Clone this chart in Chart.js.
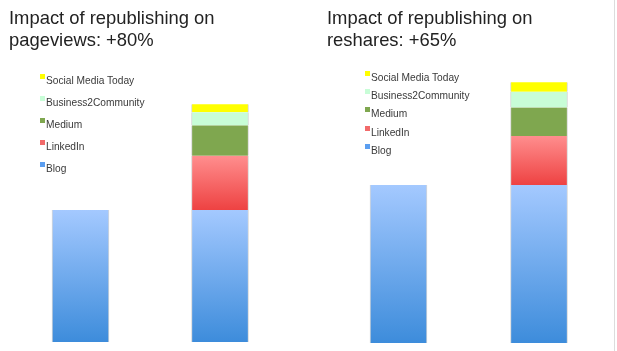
<!DOCTYPE html>
<html>
<head>
<meta charset="utf-8">
<script src="https://cdn.jsdelivr.net/npm/chart.js@4.4.1/dist/chart.umd.min.js"></script>
<style>
  html, body { margin: 0; padding: 0; background: #fff; }
  #page { position: relative; width: 617px; height: 351px; overflow: hidden; background: #fff; font-family: "Liberation Sans", Arial, Helvetica, sans-serif; }
  canvas { position: absolute; top: 0; }
  .title { position: absolute; font-size: 18.4px; line-height: 22px; color: #222; white-space: nowrap; }
  .legend { position: absolute; font-size: 10.2px; color: #3a3a3a; }
  .legend .item { position: absolute; left: 0; white-space: nowrap; height: 12px; line-height: 12px; }
  .legend .sw { position: absolute; left: 0; top: 0px; width: 5px; height: 5px; }
  .legend .tx { position: absolute; left: 6px; top: 1px; }
  #vline { position: absolute; left: 614px; top: 0; width: 1px; height: 351px; background: #dcdcdc; }
</style>
</head>
<body>
<div id="page">
  <canvas id="c1" width="308" height="342" style="left:0px"></canvas>
  <canvas id="c2" width="306" height="343" style="left:308px"></canvas>
  <div class="title" id="t1" style="left:9px; top:7px;"></div>
  <div class="title" id="t2" style="left:327px; top:7px;"></div>
  <div class="legend" id="l1" style="left:40px; top:0px;"></div>
  <div class="legend" id="l2" style="left:365px; top:0px;"></div>
  <div id="vline"></div>
</div>
<script>
// ---- data (index: Blog before republishing = 100) ----
const categories = ["Before", "After"];
const seriesNames = ["Blog", "LinkedIn", "Medium", "Business2Community", "Social Media Today"];

const pageviewsBlog     = [100, 100];
const pageviewsLinkedIn = [0, 41];
const pageviewsMedium   = [0, 23];
const pageviewsB2C      = [0, 10];
const pageviewsSMT      = [0, 6];

const resharesBlog     = [100, 100];
const resharesLinkedIn = [0, 31];
const resharesMedium   = [0, 18];
const resharesB2C      = [0, 10];
const resharesSMT      = [0, 6];

const titleLeft  = ["Impact of republishing on", "pageviews: +80%"];
const titleRight = ["Impact of republishing on", "reshares: +65%"];

// ---- styles ----
const gradients = {
  "Blog": ["#a4c9ff", "#3d8cdb"],
  "LinkedIn": ["#ff8e8e", "#ee4242"]
};
const flatColors = {
  "Medium": "#7fa74f",
  "Business2Community": "#c8fdd7",
  "Social Media Today": "#ffff00"
};
const legendSwatch = {
  "Blog": "#5b9ef0", "LinkedIn": "#f26a6a", "Medium": "#7fa74f",
  "Business2Community": "#c8fdd7", "Social Media Today": "#ffff00"
};

function makeDatasets(valuesList) {
  return valuesList.map((vals, i) => {
    const name = seriesNames[i];
    return {
      label: name,
      data: vals,
      barThickness: 57,
      borderColor: "rgba(140,140,140,0.35)",
      borderWidth: {left: 1, right: 1, top: 0, bottom: 0},
      borderSkipped: false,
      backgroundColor: function(ctx) {
        if (!gradients[name]) return flatColors[name];
        const chart = ctx.chart;
        const ys = chart.scales && chart.scales.y;
        if (!chart.chartArea || !ys || ctx.dataIndex === undefined) return gradients[name][0];
        let start = 0;
        for (let k = 0; k < i; k++) start += chart.data.datasets[k].data[ctx.dataIndex];
        const end = start + vals[ctx.dataIndex];
        const yTop = ys.getPixelForValue(end);
        const yBot = ys.getPixelForValue(start);
        if (!isFinite(yTop) || !isFinite(yBot) || yTop === yBot) return gradients[name][0];
        const g = chart.ctx.createLinearGradient(0, yTop, 0, yBot);
        g.addColorStop(0, gradients[name][0]);
        g.addColorStop(1, gradients[name][1]);
        return g;
      }
    };
  });
}

function makeChart(id, datasets, yMax, padL, padR) {
  return new Chart(document.getElementById(id), {
    type: "bar",
    data: { labels: categories, datasets: datasets },
    options: {
      responsive: false,
      animation: false,
      layout: { padding: { left: padL, right: padR, top: 0, bottom: 0 } },
      plugins: { legend: { display: false }, tooltip: { enabled: false }, title: { display: false } },
      scales: {
        x: { stacked: true, display: false, grid: { display: false } },
        y: { stacked: true, display: false, min: 0, max: yMax, grid: { display: false } }
      }
    }
  });
}

makeChart("c1", makeDatasets([pageviewsBlog, pageviewsLinkedIn, pageviewsMedium, pageviewsB2C, pageviewsSMT]), 259, 10.75, 18.25);
makeChart("c2", makeDatasets([resharesBlog, resharesLinkedIn, resharesMedium, resharesB2C, resharesSMT]), 217, 20.25, 4.75);

document.getElementById("t1").innerHTML = titleLeft.join("<br>");
document.getElementById("t2").innerHTML = titleRight.join("<br>");

function buildLegend(id, firstY, step) {
  const el = document.getElementById(id);
  const order = seriesNames.slice().reverse();
  order.forEach((n, k) => {
    const it = document.createElement("div");
    it.className = "item";
    it.style.top = (firstY + k * step) + "px";
    const sw = document.createElement("span");
    sw.className = "sw";
    sw.style.background = legendSwatch[n];
    const tx = document.createElement("span");
    tx.className = "tx";
    tx.textContent = n;
    it.appendChild(sw); it.appendChild(tx);
    el.appendChild(it);
  });
}
buildLegend("l1", 74, 22);
buildLegend("l2", 71, 18.2);
</script>
</body>
</html>
